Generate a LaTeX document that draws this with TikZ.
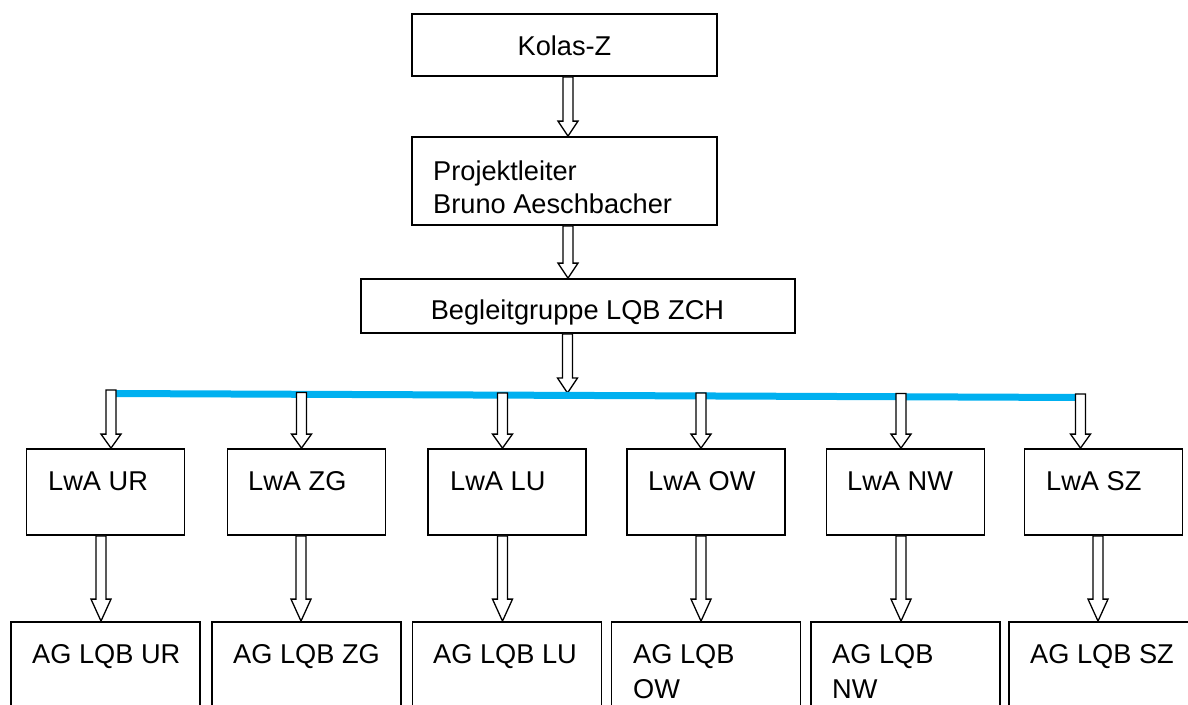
\documentclass[tikz,border=0pt]{standalone}
\usepackage{fontspec}
\setmainfont{Liberation Sans}
\usetikzlibrary{calc}
\tikzset{
  box/.style={draw, line width=1.8pt, inner sep=0pt},
  txt/.style={inner sep=0pt, font=\fontsize{27.2pt}{33pt}\selectfont},
  arr/.style={draw, fill=white, line width=1.3pt, line join=miter},
  bus/.style={draw=buscol, line width=7pt}
}
\definecolor{buscol}{HTML}{00B0F0}
\newcommand\barrow[3][14pt]{\path[arr] let \p1=(#2), \p2=(#3) in
  (\x1-5pt,\y1) -- (\x1+5pt,\y1) -- (\x1+5pt,\y2+#1) -- (\x1+10pt,\y2+#1)
  -- (\x1,\y2) -- (\x1-10pt,\y2+#1) -- (\x1-5pt,\y2+#1) -- cycle;}
\begin{document}
\begin{tikzpicture}[x=1pt,y=-1pt]
\clip (0,0) rectangle (1188,704);
\fill[white] (0,0) rectangle (1188,704);
% top boxes
\node[box, minimum width=305pt, minimum height=62pt] (kolas) at (564.5,45) {};
\node[box, minimum width=305pt, minimum height=88pt] (pl) at (564.5,181) {};
\node[box, minimum width=434pt, minimum height=54pt] (beg) at (578,306) {};
\node[txt, anchor=base] (tk) at (564.5,55) {Kolas-Z};
\node[txt, anchor=base west] (tp1) at (433,180) {Projektleiter};
\node[txt, anchor=base west] (tp2) at (433,213) {Bruno Aeschbacher};
\node[txt, anchor=base] (tb) at (577.5,319) {Begleitgruppe LQB ZCH};
% LwA boxes
\foreach \k/\c in {ur/105.5, zg/306.5, lu/507, ow/706, nw/905.5, sz/1103.5}{
  \node[box, minimum width=158pt, minimum height=86pt] (l\k) at (\c,492) {};
  \node[box, minimum width=189pt, minimum height=108pt] (a\k) at (\c,676) {};
}
\node[txt, anchor=base west] (tlur) at (48,490) {LwA UR};
\node[txt, anchor=base west] (tlzg) at (248,490) {LwA ZG};
\node[txt, anchor=base west] (tllu) at (450,490) {LwA LU};
\node[txt, anchor=base west] (tlow) at (648,490) {LwA OW};
\node[txt, anchor=base west] (tlnw) at (847,490) {LwA NW};
\node[txt, anchor=base west] (tlsz) at (1046,490) {LwA SZ};
\node[txt, anchor=base west] (taur) at (32,663) {AG LQB UR};
\node[txt, anchor=base west] (tazg) at (233,663) {AG LQB ZG};
\node[txt, anchor=base west] (talu) at (433,663) {AG LQB LU};
\node[txt, anchor=base west] (taow) at (633,663) {AG LQB};
\node[txt, anchor=base west] (taow2) at (633,698) {OW};
\node[txt, anchor=base west] (tanw) at (832,663) {AG LQB};
\node[txt, anchor=base west] (tanw2) at (832,698) {NW};
\node[txt, anchor=base west] (tasz) at (1030,663) {AG LQB SZ};
% main arrows
\coordinate (ax) at (568,0);
\coordinate (bc) at (567.5,393);
\barrow[15pt]{kolas.south -| ax}{pl.north}
\barrow[15pt]{pl.south -| ax}{beg.north}
\barrow[15pt]{beg.south -| bc}{bc}
% bus line
\coordinate (bl) at (111,393.5);
\coordinate (br) at (1080.5,397.5);
\draw[bus] (bl) -- (br);
% bus taps
\coordinate (tur) at (111,390);
\coordinate (tzg) at (301.5,392.5);
\coordinate (tlu) at (502.5,393);
\coordinate (tow) at (701,393);
\coordinate (tnw) at (901,393.5);
\coordinate (tsz) at (1080.5,394);
\barrow{tur}{lur.north}
\barrow{tzg}{lzg.north}
\barrow{tlu}{llu.north}
\barrow{tow}{low.north}
\barrow{tnw}{lnw.north}
\barrow{tsz}{lsz.north}
% lower arrows
\coordinate (dur) at (101,0);
\coordinate (dzg) at (301,0);
\coordinate (dlu) at (502.5,0);
\coordinate (dow) at (701,0);
\coordinate (dnw) at (901,0);
\coordinate (dsz) at (1098,0);
\barrow[22pt]{lur.south -| dur}{aur.north}
\barrow[22pt]{lzg.south -| dzg}{azg.north}
\barrow[22pt]{llu.south -| dlu}{alu.north}
\barrow[22pt]{low.south -| dow}{aow.north}
\barrow[22pt]{lnw.south -| dnw}{anw.north}
\barrow[22pt]{lsz.south -| dsz}{asz.north}
\end{tikzpicture}
\end{document}
